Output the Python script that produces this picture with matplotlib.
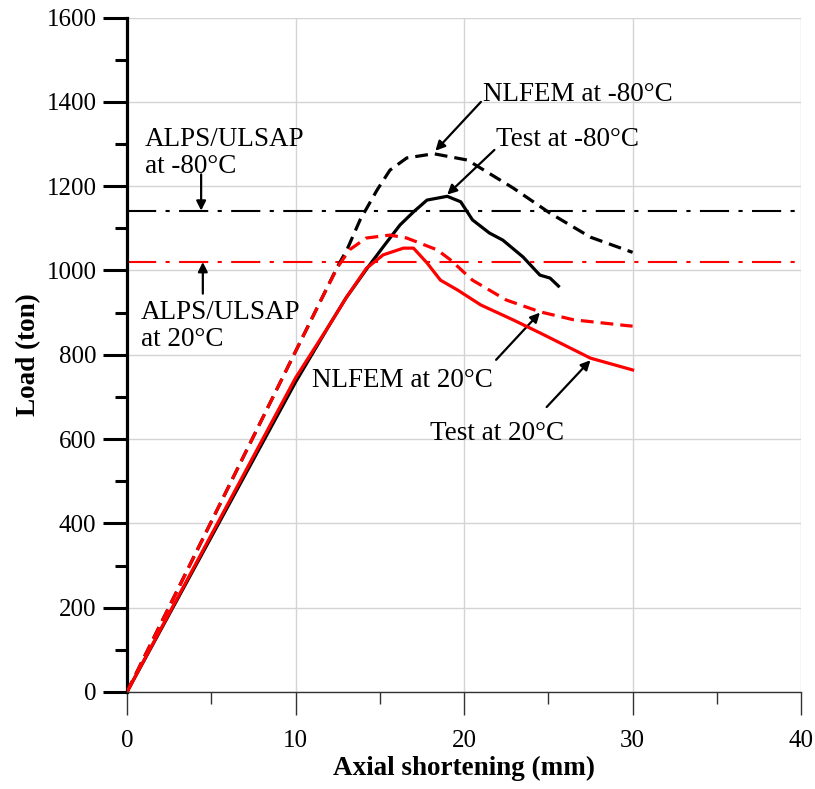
import matplotlib
matplotlib.use("Agg")
import matplotlib.pyplot as plt
from matplotlib.ticker import MultipleLocator

plt.rcParams['font.family'] = ['Liberation Serif', 'DejaVu Serif']

# Data (axial shortening in mm, load in ton)
nlfem_m80_x = [0, 11.6, 12.5, 13.05, 13.83, 14.84, 15.6, 16.6, 18.2, 20.2, 22.9, 25.1, 27.5, 30.0]
nlfem_m80_y = [0, 937, 1010, 1049, 1120, 1191, 1238, 1267, 1277, 1262, 1196, 1136, 1079, 1043]

test_m80_x = [0, 10, 12, 13, 14.3, 15.2, 16.2, 17.0, 17.8, 19.0, 19.8, 20.5, 21.5, 22.3, 23.5, 24.5, 25.1, 25.6]
test_m80_y = [0, 735, 870, 935, 1008, 1056, 1108, 1139, 1167, 1176, 1163, 1120, 1089, 1072, 1032, 989, 982, 963]

nlfem_20_x = [0, 11.6, 12.5, 13.2, 14.2, 15.6, 16.6, 18.4, 19.2, 20.5, 22.5, 24.5, 26.5, 29.7, 30.0]
nlfem_20_y = [0, 937, 1008, 1049, 1077, 1084, 1077, 1049, 1025, 977, 930, 902, 883, 869, 868]

test_20_x = [0, 10, 12, 13, 14.2, 15.2, 16.4, 17.0, 17.8, 18.6, 19.6, 21.0, 22.9, 24.5, 27.5, 30.0]
test_20_y = [0, 745, 870, 935, 1005, 1037, 1053, 1053, 1018, 977, 954, 918, 883, 852, 792, 764]

alps_m80 = 1142
alps_20 = 1020

x_ticks = [0, 10, 20, 30, 40]
y_ticks = [0, 200, 400, 600, 800, 1000, 1200, 1400, 1600]

fig = plt.figure(figsize=(8.15, 7.89), dpi=100)
ax = fig.add_axes([0.1558, 0.123, 0.8272, 0.8547])

ax.set_xlim(0, 40)
ax.set_ylim(0, 1600)
ax.set_xticks(x_ticks)
ax.set_yticks(y_ticks)
ax.xaxis.set_minor_locator(MultipleLocator(5))
ax.yaxis.set_minor_locator(MultipleLocator(100))
ax.grid(True, which='major', color='#d4d4d4', lw=1.0, zorder=0)
ax.set_axisbelow(True)

for s in ['top', 'right']:
    ax.spines[s].set_visible(False)
ax.spines['left'].set_linewidth(2.3)
ax.spines['left'].set_color('black')
ax.spines['bottom'].set_linewidth(1.0)
ax.spines['bottom'].set_color('#333333')

ax.tick_params(axis='y', which='major', direction='out', length=17, width=2.2, color='black', pad=5, labelsize=18)
ax.tick_params(axis='y', which='minor', direction='out', length=8.5, width=2.2, color='black')
ax.tick_params(axis='x', which='major', direction='out', length=16.5, width=1.0, color='#333333', pad=11, labelsize=18)
ax.tick_params(axis='x', which='minor', direction='out', length=8.5, width=1.0, color='#333333')

ax.set_xlabel('Axial shortening (mm)', fontsize=19.5, fontweight='bold', labelpad=3)
ax.set_ylabel('Load (ton)', fontsize=19.5, fontweight='bold', labelpad=4)

dashdot = (0, (14, 4.5, 2, 4.5))
ax.axhline(alps_m80, color='black', lw=1.5, ls=dashdot, zorder=2)
ax.axhline(alps_20, color='red', lw=1.5, ls=dashdot, zorder=2)

ax.plot(nlfem_m80_x, nlfem_m80_y, color='black', lw=2.3, ls=(0, (4, 2.2)), zorder=3)
ax.plot(test_m80_x, test_m80_y, color='black', lw=2.3, zorder=3)
ax.plot(nlfem_20_x, nlfem_20_y, color='red', lw=2.3, ls=(0, (4, 2.2)), zorder=4)
ax.plot(test_20_x, test_20_y, color='red', lw=2.3, zorder=4)

arrow = dict(arrowstyle='-|>', color='black', lw=1.6, mutation_scale=14, shrinkA=0, shrinkB=0)
fs = 19.5

ax.text(1.07, 1232, 'ALPS/ULSAP\nat -80\u00b0C', fontsize=fs, va='baseline', ha='left', linespacing=1.1)
ax.annotate('', xy=(4.4, alps_m80), xytext=(4.4, 1228), arrowprops=arrow)

ax.text(0.83, 820, 'ALPS/ULSAP\nat 20\u00b0C', fontsize=fs, va='baseline', ha='left', linespacing=1.1)
ax.annotate('', xy=(4.5, alps_20), xytext=(4.5, 945), arrowprops=arrow)

ax.text(21.1, 1402, 'NLFEM at -80\u00b0C', fontsize=fs, va='baseline', ha='left')
ax.annotate('', xy=(18.3, 1284), xytext=(21.0, 1400), arrowprops=arrow)

ax.text(21.9, 1295, 'Test at -80\u00b0C', fontsize=fs, va='baseline', ha='left')
ax.annotate('', xy=(19.0, 1180), xytext=(21.8, 1286), arrowprops=arrow)

ax.text(10.98, 724, 'NLFEM at 20\u00b0C', fontsize=fs, va='baseline', ha='left')
ax.annotate('', xy=(24.5, 900), xytext=(21.9, 788), arrowprops=arrow)

ax.text(17.98, 598, 'Test at 20\u00b0C', fontsize=fs, va='baseline', ha='left')
ax.annotate('', xy=(27.5, 787), xytext=(24.9, 676), arrowprops=arrow)

fig.savefig('out.png', dpi=100)
